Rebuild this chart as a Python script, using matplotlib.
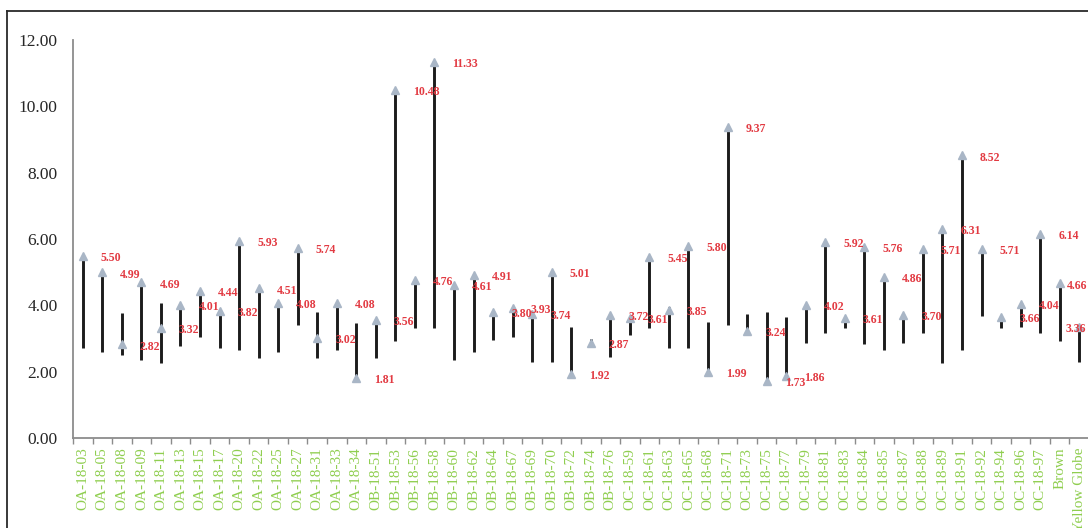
import matplotlib
matplotlib.use("Agg")
import matplotlib.pyplot as plt
from matplotlib.lines import Line2D
import numpy as np

# Accessions on the category axis
categories = [
    "OA-18-03", "OA-18-05", "OA-18-08", "OA-18-09", "OA-18-11", "OA-18-13",
    "OA-18-15", "OA-18-17", "OA-18-20", "OA-18-22", "OA-18-25", "OA-18-27",
    "OA-18-31", "OA-18-33", "OA-18-34",
    "OB-18-51", "OB-18-53", "OB-18-56", "OB-18-58", "OB-18-60", "OB-18-62",
    "OB-18-64", "OB-18-67", "OB-18-69", "OB-18-70", "OB-18-72", "OB-18-74",
    "OB-18-76",
    "OC-18-59", "OC-18-61", "OC-18-63", "OC-18-65", "OC-18-68", "OC-18-71",
    "OC-18-73", "OC-18-75", "OC-18-77", "OC-18-79", "OC-18-81", "OC-18-83",
    "OC-18-84", "OC-18-85", "OC-18-87", "OC-18-88", "OC-18-89", "OC-18-91",
    "OC-18-92", "OC-18-94", "OC-18-96", "OC-18-97",
    "Brown", "Yellow Globe",
]

# High / low / close values for each accession
high = [
    5.50, 4.99, 3.78, 4.69, 4.08, 4.01, 4.44, 3.86, 5.93, 4.51, 4.08, 5.74,
    3.81, 4.08, 3.46,
    3.56, 10.48, 4.76, 11.33, 4.61, 4.91, 3.80, 3.93, 3.74, 5.01, 3.36, 3.00,
    3.72,
    3.61, 5.45, 3.96, 5.80, 3.51, 9.37, 3.74, 3.81, 3.66, 4.02, 5.92, 3.61,
    5.76, 4.86, 3.74, 5.71, 6.31, 8.52, 5.71, 3.66, 4.04, 6.14,
    4.66, 3.36,
]
low = [
    2.70, 2.60, 2.50, 2.35, 2.25, 2.77, 3.05, 2.70, 2.66, 2.40, 2.60, 3.41,
    2.40, 2.65, 1.81,
    2.40, 2.93, 3.31, 3.31, 2.35, 2.60, 2.95, 3.05, 2.30, 2.30, 1.92, 2.80,
    2.45,
    3.11, 3.31, 2.70, 2.70, 1.99, 3.41, 3.20, 1.73, 1.86, 2.87, 3.16, 3.31,
    2.83, 2.65, 2.87, 3.17, 2.25, 2.65, 3.68, 3.31, 3.36, 3.16,
    2.93, 2.30,
]
close = [
    5.50, 4.99, 2.82, 4.69, 3.32, 4.01, 4.44, 3.82, 5.93, 4.51, 4.08, 5.74,
    3.02, 4.08, 1.81,
    3.56, 10.48, 4.76, 11.33, 4.61, 4.91, 3.80, 3.93, 3.74, 5.01, 1.92, 2.87,
    3.72,
    3.61, 5.45, 3.85, 5.80, 1.99, 9.37, 3.24, 1.73, 1.86, 4.02, 5.92, 3.61,
    5.76, 4.86, 3.70, 5.71, 6.31, 8.52, 5.71, 3.66, 4.04, 6.14,
    4.66, 3.36,
]

W, H = 1088, 528
fig = plt.figure(figsize=(W / 100, H / 100), dpi=100)
fig.patch.set_facecolor("white")

ax = fig.add_axes([73 / W, 1 - 438 / H, (1089 - 73) / W, (438 - 40) / H])

x = np.arange(len(categories))
ax.vlines(x, low, high, color="#1c1c1c", lw=2.1, zorder=2)
ax.plot(x, close, ls="none", marker="^", ms=5.2, color="#a9b6c6",
        markeredgecolor="#a9b6c6", zorder=3)

n = len(categories)
for xi, c in zip(x, close):
    # labels of the last two points are pulled in to stay inside the chart
    if xi == n - 1:
        dx = -10
    elif xi == n - 2:
        dx = 5
    else:
        dx = 13
    ax.annotate(f"{c:.2f}", (xi, c), xytext=(dx, -1.5),
                textcoords="offset points", ha="left", va="center",
                color="#e23a42", fontsize=8.5, fontweight="bold",
                family="Liberation Serif", annotation_clip=False, zorder=4)

ax.set_xlim(-0.5, n - 0.5)
ax.set_ylim(0, 12)

yt = np.arange(0, 12.01, 2)
ax.set_yticks(yt)
ax.set_yticklabels([f"{v:.2f}" for v in yt], family="Liberation Serif",
                   fontsize=12.5, color="#262626")
ax.tick_params(axis="y", length=0, pad=11)

ax.set_xticks(x)
ax.set_xticklabels(categories, rotation=90, family="Liberation Serif",
                   fontsize=11, color="#8fce4f", va="top", ha="center")
ax.tick_params(axis="x", which="major", length=0, pad=7)
ax.set_xticks(np.arange(-0.5, n, 1), minor=True)
ax.tick_params(axis="x", which="minor", length=4, width=1,
               color="#8c8c8c", direction="out")

for side in ("top", "right"):
    ax.spines[side].set_visible(False)
for side in ("left", "bottom"):
    ax.spines[side].set_color("#8c8c8c")
    ax.spines[side].set_linewidth(1.3)

# Outer chart frame (top and left edges)
frame_kw = dict(color="#2a2a2a", lw=1.3, transform=None)
fig.add_artist(Line2D([7, 7], [H - 11, 0], **frame_kw))
fig.add_artist(Line2D([7, W], [H - 11, H - 11], **frame_kw))

fig.savefig("out.png", dpi=100)
